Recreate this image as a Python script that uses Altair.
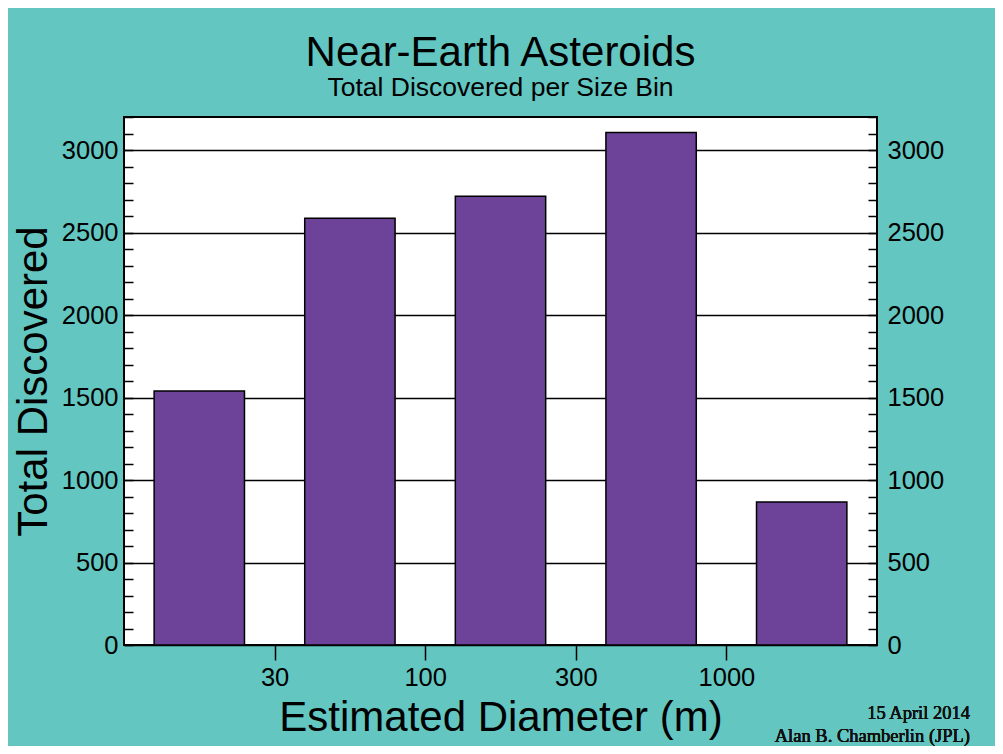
import altair as alt
import pandas as pd

# ---- data ----
bin_lo_m = [10.0, 31.6228, 100.0, 316.228, 1000.0]
bin_hi_m = [31.6228, 100.0, 316.228, 1000.0, 3162.28]
total_discovered = [1540, 2586, 2719, 3106, 866]

x_tick_values = [31.6228, 100.0, 316.228, 1000.0]
x_tick_labels = ["30", "100", "300", "1000"]
y_major_values = [0, 500, 1000, 1500, 2000, 2500, 3000]
y_minor_values = list(range(0, 3201, 100))

credit_lines = ["15 April 2014", "Alan B. Chamberlin (JPL)"]

TEAL = "#63c6c1"
PURPLE = "#6c4398"
FONT = "Liberation Sans"
TICK_FS = 25.5
BIG_FS = 42

df = pd.DataFrame({"lo": bin_lo_m, "hi": bin_hi_m, "count": total_discovered})
ratio = df["hi"] / df["lo"]
df["bar_start"] = df["lo"] * ratio ** 0.2
df["bar_end"] = df["hi"] / ratio ** 0.2

xscale = alt.Scale(type="log", domain=[10, 3162.28], nice=False, padding=0)
yscale = alt.Scale(domain=[0, 3200], nice=False, zero=True, padding=0)

label_expr = " : ".join(
    f"abs(datum.value - {v}) < 1 ? '{t}'" for v, t in zip(x_tick_values, x_tick_labels)
) + " : ''"

x_axis = alt.Axis(
    values=x_tick_values, labelExpr=label_expr, grid=False, domain=False,
    ticks=True, tickSize=15, tickWidth=1.5, tickColor="black",
    labelFontSize=TICK_FS, labelFont=FONT, labelColor="black", labelPadding=5,
    labelOverlap=False, labelFlush=False,
    title="Estimated Diameter (m)", titleFontSize=BIG_FS, titleFont=FONT,
    titleFontWeight="normal", titleColor="black", titlePadding=7,
)

left_axis = alt.Axis(
    orient="left", values=y_major_values, format="d", grid=True,
    gridColor="black", gridWidth=1.5, domain=False, ticks=False,
    labelFontSize=TICK_FS, labelFont=FONT, labelColor="black", labelPadding=6,
    title="Total Discovered", titleFontSize=BIG_FS, titleFont=FONT,
    titleFontWeight="normal", titleColor="black", titlePadding=6,
)

bars = alt.Chart(df).mark_bar(color=PURPLE, stroke="black", strokeWidth=1.5).encode(
    x=alt.X("bar_start:Q", scale=xscale, axis=x_axis),
    x2="bar_end:Q",
    y=alt.Y("count:Q", scale=yscale, axis=left_axis),
    y2=alt.datum(0),
)

left_minor = alt.Chart(df).mark_point(opacity=0).encode(
    y=alt.Y("count:Q", scale=yscale, axis=alt.Axis(
        orient="left", values=y_minor_values, offset=-9, tickSize=9,
        tickWidth=1.5, tickColor="black", labels=False, domain=False,
        grid=False, title=None)),
)

right_labels = alt.Chart(df).mark_point(opacity=0).encode(
    y=alt.Y("count:Q", scale=yscale, axis=alt.Axis(
        orient="right", values=y_major_values, format="d", ticks=False,
        domain=False, grid=False, labelFontSize=TICK_FS, labelFont=FONT,
        labelColor="black", labelPadding=10, title=None)),
)

right_minor = alt.Chart(df).mark_point(opacity=0).encode(
    y=alt.Y("count:Q", scale=yscale, axis=alt.Axis(
        orient="right", values=y_minor_values, offset=-9, tickSize=9,
        tickWidth=1.5, tickColor="black", labels=False, domain=False,
        grid=False, title=None)),
)

credit_layers = [
    alt.Chart(df).mark_text(
        align="right", baseline="alphabetic", font="Liberation Serif",
        fontSize=18.5, fontWeight="normal", color="#111111", text=line,
    ).encode(x=alt.value(846), y=alt.value(y_px))
    for line, y_px in zip(credit_lines, [602, 625])
]

chart = alt.layer(bars, left_minor, right_labels, right_minor, *credit_layers).resolve_axis(
    y="independent"
).properties(
    width=753,
    height=528,
    autosize=alt.AutoSizeParams(type="none"),
    padding={"left": 116, "top": 109, "right": 118, "bottom": 101},
    background=TEAL,
    title=alt.TitleParams(
        text="Near-Earth Asteroids", subtitle="Total Discovered per Size Bin",
        font=FONT, fontSize=BIG_FS, fontWeight="normal", color="black",
        subtitleFont=FONT, subtitleFontSize=26.5, subtitleColor="black",
        subtitlePadding=0, anchor="middle", offset=14,
    ),
).configure_view(stroke="black", strokeWidth=2, fill="white")

chart.save("out.html", embed_options={"renderer": "svg", "actions": False})
